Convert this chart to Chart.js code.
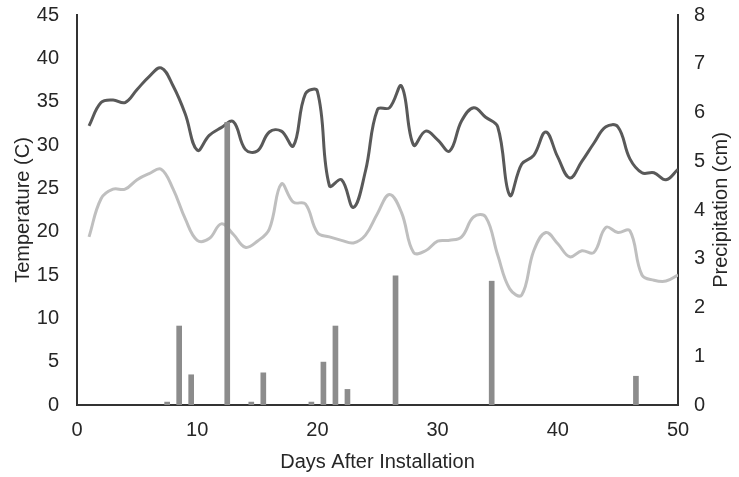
<!DOCTYPE html>
<html>
<head>
<meta charset="utf-8">
<script src="https://cdn.jsdelivr.net/npm/chart.js@4"></script>
<style>
html,body{margin:0;padding:0;background:#fff;}
#wrap{width:739px;height:477px;}
</style>
</head>
<body>
<div id="wrap"><canvas id="c" width="739" height="477"></canvas></div>
<script>
const days = [1,2,3,4,5,6,7,8,9,10,11,12,13,14,15,16,17,18,19,20,21,22,23,24,25,26,27,28,29,30,31,32,33,34,35,36,37,38,39,40,41,42,43,44,45,46,47,48,49,50];
const tempHigh = [32.2,34.9,35.2,34.9,36.4,37.9,38.9,36.8,33.6,29.4,31.1,32.0,32.7,29.5,29.3,31.5,31.6,29.9,35.9,36.2,25.3,26.0,22.8,27.0,34.1,34.3,36.8,30.0,31.6,30.6,29.3,32.8,34.3,33.2,32.1,24.2,27.8,28.8,31.5,28.6,26.2,28.1,30.2,32.1,32.1,28.4,26.8,26.8,26.0,27.2];
const tempLow = [19.4,23.8,24.9,24.9,26.0,26.7,27.2,24.9,21.5,19.0,19.2,20.9,19.7,18.2,18.9,20.3,25.5,23.4,23.2,19.9,19.4,19.0,18.7,19.6,22.1,24.3,22.2,17.6,17.8,18.9,19.0,19.4,21.7,21.7,17.3,13.4,12.7,17.8,19.9,18.6,17.1,17.8,17.6,20.5,19.9,20.1,15.0,14.4,14.3,15.0];
const precipDays = [7.5,8.5,9.5,12.5,14.5,15.5,19.5,20.5,21.5,22.5,26.5,34.5,46.5];
const precip = [0.06,1.62,0.62,5.8,0.06,0.66,0.06,0.88,1.62,0.32,2.65,2.54,0.59];
const xTicks = [0,10,20,30,40,50];
const tempTicks = [0,5,10,15,20,25,30,35,40,45];
const precipTicks = [0,1,2,3,4,5,6,7,8];
const xTitle = 'Days After Installation';
const yTitle = 'Temperature (C)';
const y1Title = 'Precipitation (cm)';

const pts = (xs, ys) => xs.map((x,i)=>({x:x, y:ys[i]}));
const FAMILY = '"Liberation Sans", Arial, sans-serif';
const FONT = {family:FAMILY, size:20};
const TXT = '#262626';

const rightTitle = {
  id:'rightTitle',
  afterDraw(chart){
    const ctx = chart.ctx, a = chart.chartArea;
    ctx.save();
    ctx.translate(721, (a.top + a.bottom)/2);
    ctx.rotate(-Math.PI/2);
    ctx.font = '20px ' + FAMILY;
    ctx.fillStyle = TXT;
    ctx.textAlign = 'center';
    ctx.textBaseline = 'middle';
    ctx.fillText(y1Title, 0, 0);
    ctx.restore();
  }
};

const noVPad = (s)=>{ s.paddingTop = 0; s.paddingBottom = 0; };

new Chart(document.getElementById('c'), {
  type:'bar',
  data:{
    datasets:[
      {type:'bar', label:'Precipitation', data:pts(precipDays, precip), yAxisID:'y1', xAxisID:'x',
       backgroundColor:'#8c8c8c', barThickness:5, order:0},
      {type:'line', label:'High', data:pts(days, tempHigh), yAxisID:'y', xAxisID:'x',
       borderColor:'#595959', borderWidth:3, pointRadius:0, tension:0.4, fill:false, order:1},
      {type:'line', label:'Low', data:pts(days, tempLow), yAxisID:'y', xAxisID:'x',
       borderColor:'#bfbfbf', borderWidth:3, pointRadius:0, tension:0.4, fill:false, order:2}
    ]
  },
  plugins:[rightTitle],
  options:{
    responsive:false, animation:false,
    layout:{padding:{top:15,left:0,right:0,bottom:0}},
    plugins:{legend:{display:false}, tooltip:{enabled:false}},
    scales:{
      x:{type:'linear', min:0, max:50, offset:false,
         grid:{display:false, drawTicks:false, offset:false},
         border:{display:true, color:'#333333', width:2},
         afterBuildTicks:(s)=>{s.ticks = xTicks.map(v=>({value:v}));},
         afterFit:(s)=>{s.height = 72; s.paddingLeft = 0; s.paddingRight = 0;},
         ticks:{font:FONT, color:TXT, padding:13, maxRotation:0},
         title:{display:true, text:xTitle, font:FONT, color:TXT, padding:{top:0,bottom:3}}
      },
      y:{type:'linear', position:'left', min:0, max:45,
         grid:{display:false, drawTicks:false},
         border:{display:true, color:'#333333', width:2},
         afterBuildTicks:(s)=>{s.ticks = tempTicks.map(v=>({value:v}));},
         afterFit:(s)=>{s.width = 77; noVPad(s);},
         ticks:{font:FONT, color:TXT, padding:18},
         title:{display:true, text:yTitle, font:FONT, color:TXT, padding:{top:11,bottom:0}}
      },
      y1:{type:'linear', position:'right', min:0, max:8,
         grid:{display:false, drawTicks:false},
         border:{display:true, color:'#333333', width:2},
         afterBuildTicks:(s)=>{s.ticks = precipTicks.map(v=>({value:v}));},
         afterFit:(s)=>{s.width = 61; noVPad(s);},
         ticks:{font:FONT, color:TXT, padding:16},
         title:{display:false}
      }
    }
  }
});
</script>
</body>
</html>
